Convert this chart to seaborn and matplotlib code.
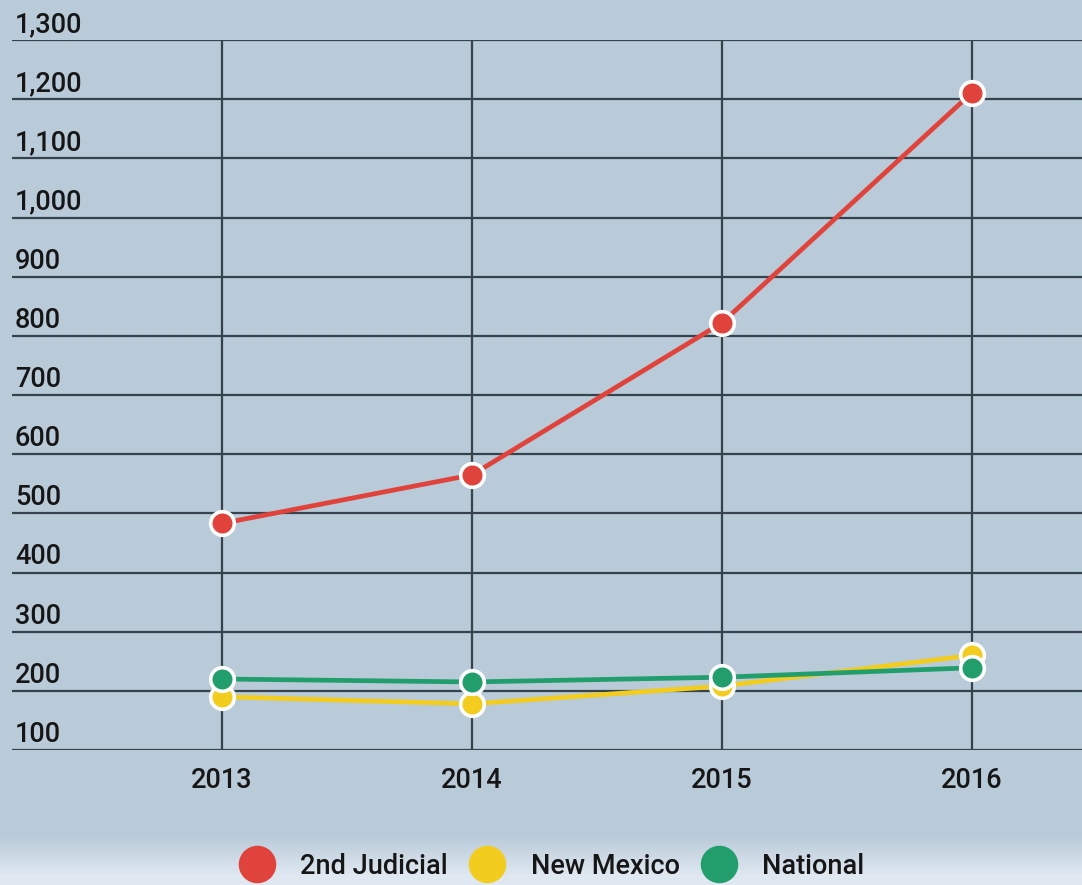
import numpy as np
import pandas as pd
import seaborn as sns
import matplotlib.pyplot as plt
import matplotlib.transforms as mtransforms
from matplotlib.lines import Line2D
from matplotlib.colors import LinearSegmentedColormap

years = [2013, 2014, 2015, 2016]
judicial = [483, 565, 822, 1211]
new_mexico = [190, 178, 208, 260]
national = [220, 215, 223, 239]
series_names = ["2nd Judicial", "New Mexico", "National"]
colors = ["#e0433b", "#f2cd1f", "#229e6c"]
y_ticks = list(range(100, 1400, 100))

df = pd.DataFrame({
    "year": years * 3,
    "value": judicial + new_mexico + national,
    "series": [series_names[0]] * 4 + [series_names[1]] * 4 + [series_names[2]] * 4,
})

sns.set_theme(style="white")
plt.rcParams["font.family"] = ["Roboto", "DejaVu Sans"]
TXT = "#161616"
FW = "medium"

W, H = 1082, 885
fig = plt.figure(figsize=(W / 100, H / 100), dpi=100)
bg = "#b9cad8"
fig.patch.set_facecolor(bg)

# background gradient for the figure (lighter at bottom strip)
bgax = fig.add_axes([0, 0, 1, 1], zorder=-10)
bgax.axis("off")
grad = np.ones((H, 1))
rows = np.arange(H)
grad[:, 0] = np.clip((rows - (H - 50)) / 40.0, 0, 1)
cmap = LinearSegmentedColormap.from_list("bgc", [bg, "#dfe8f1"])
bgax.imshow(grad, aspect="auto", cmap=cmap, extent=[0, 1, 0, 1], origin="upper")
bgax.set_xlim(0, 1)
bgax.set_ylim(0, 1)

left = 12 / W
bottom = 1 - 750 / H
top = 1 - 40 / H
ax = fig.add_axes([left, bottom, 1 - left, top - bottom])
ax.set_facecolor("none")

sns.lineplot(data=df, x="year", y="value", hue="series", palette=colors,
             hue_order=series_names, linewidth=3.4, marker="o", markersize=17,
             markeredgecolor="white", markeredgewidth=2.6, legend=False, ax=ax,
             zorder=5)
for ln in ax.lines:
    ln.set_zorder(5)
    ln.set_clip_on(False)

ax.set_xlim(2013 - 210 / 250, 2016 + 110 / 250)
ax.set_ylim(100, 1300)
ax.set_xticks(years)
ax.set_xticklabels([str(y) for y in years], fontsize=19.5, color=TXT, fontweight=FW)
ax.set_yticks(y_ticks)
ax.set_yticklabels([])
ax.tick_params(axis="y", length=0)
ax.tick_params(axis="x", length=0, pad=12)

# y tick labels drawn inside the plot, just above each gridline
offset = mtransforms.ScaledTranslation(3 / 100, 8 / 100, fig.dpi_scale_trans)
ytrans = ax.get_yaxis_transform() + offset
for v in y_ticks:
    ax.text(0, v, f"{v:,}", transform=ytrans, ha="left", va="baseline",
            fontsize=19.5, color=TXT, fontweight=FW, clip_on=False)

ax.grid(True, color="#36434d", linewidth=1.6)
ax.set_axisbelow(True)
for s in ax.spines.values():
    s.set_visible(False)
ax.set_xlabel("")
ax.set_ylabel("")

handles = [Line2D([0], [0], marker="o", linestyle="", markersize=26,
                  markerfacecolor=c, markeredgecolor=c) for c in colors]
fig.legend(handles, series_names, loc="center", bbox_to_anchor=(554 / W, 1 - 866 / H),
           ncol=3, frameon=False, prop={"size": 19.5, "weight": FW},
           handletextpad=1.1, columnspacing=0.95, handlelength=1.0,
           labelcolor=TXT)

fig.savefig("out.png", dpi=100, facecolor=fig.get_facecolor())
